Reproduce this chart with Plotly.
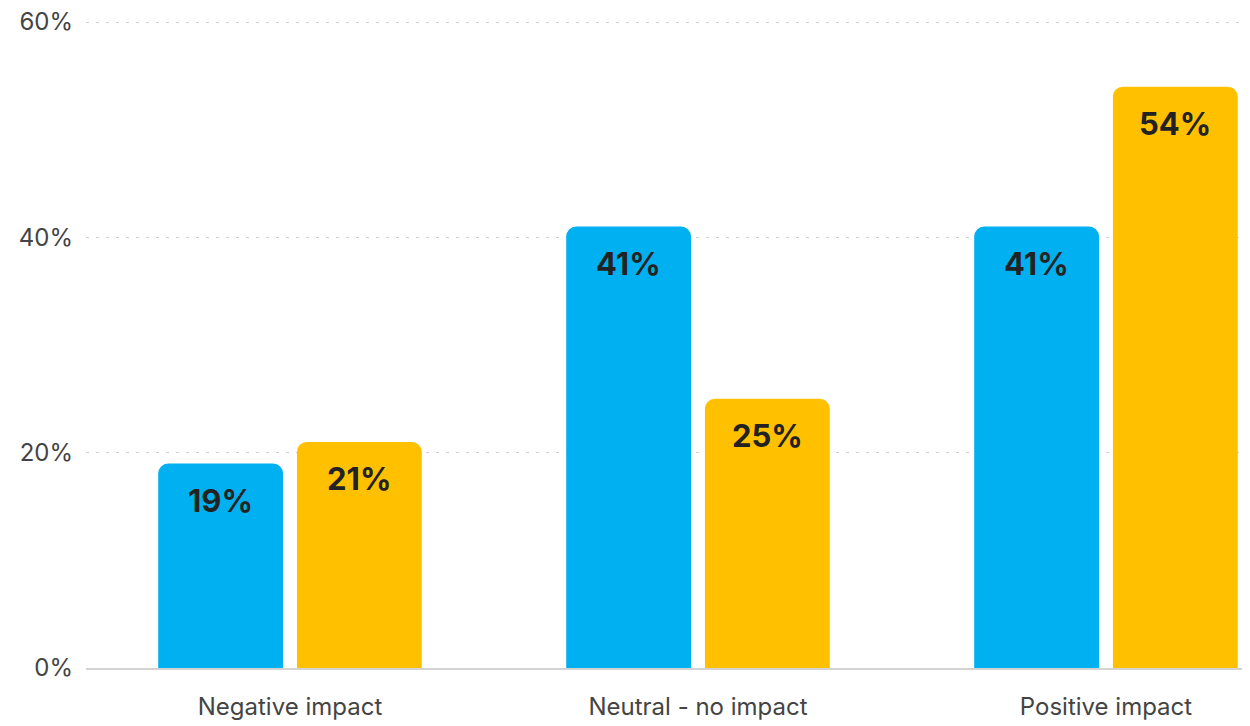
import plotly.graph_objects as go

categories = ["Negative impact", "Neutral - no impact", "Positive impact"]
series_a = [19, 41, 41]
series_b = [21, 25, 54]
ytick_vals = [0, 20, 40, 60]
ytick_text = ["0%", "20%", "40%", "60%"]

BLUE = "#00B0F0"
YELLOW = "#FFC000"
bargap = 0.32
bargroupgap = 0.10

fig = go.Figure()
fig.add_trace(go.Bar(x=categories, y=series_a, marker=dict(color=BLUE, line=dict(width=0)),
                     name="A", hoverinfo="skip"))
fig.add_trace(go.Bar(x=categories, y=series_b, marker=dict(color=YELLOW, line=dict(width=0)),
                     name="B", hoverinfo="skip"))

slot = (1 - bargap) / 2
annotations = []
for i in range(len(categories)):
    for off, vals in ((-slot / 2, series_a), (slot / 2, series_b)):
        annotations.append(dict(
            x=i + off, y=vals[i], xref="x", yref="y",
            text=f"<b>{vals[i]}%</b>", showarrow=False,
            yanchor="middle", yshift=-37,
            font=dict(family="Inter, Roboto, sans-serif", size=31, color="#222222"),
        ))

TICKFONT = dict(size=24, color="#444444", family="Inter, Roboto, sans-serif")

# page body has an 8px margin, so the figure is sized/margined to compensate
fig.update_layout(
    width=1242, height=718,
    margin=dict(l=78, r=0, t=13, b=58),
    paper_bgcolor="white", plot_bgcolor="white",
    barmode="group", bargap=bargap, bargroupgap=bargroupgap,
    barcornerradius=10,
    showlegend=False,
    annotations=annotations,
    font=dict(family="Inter, Roboto, sans-serif", color="#444444"),
    xaxis=dict(
        range=[-0.5, 2.353],
        showgrid=False, zeroline=False,
        showline=True, linecolor="#d3d3d3", linewidth=2,
        ticks="", tickfont=TICKFONT,
        ticklabelstandoff=16, automargin=False,
        ticklabeloverflow="allow",
    ),
    yaxis=dict(
        range=[0, 60.1],
        tickvals=ytick_vals, ticktext=ytick_text,
        showgrid=True, gridcolor="#d0d0d0", gridwidth=1, griddash="3px,7px",
        zeroline=False, showline=False, ticks="",
        tickfont=TICKFONT,
        ticklabelstandoff=12, automargin=False,
        ticklabeloverflow="allow",
    ),
)

fig.write_html("out.html", config={"displayModeBar": False})
